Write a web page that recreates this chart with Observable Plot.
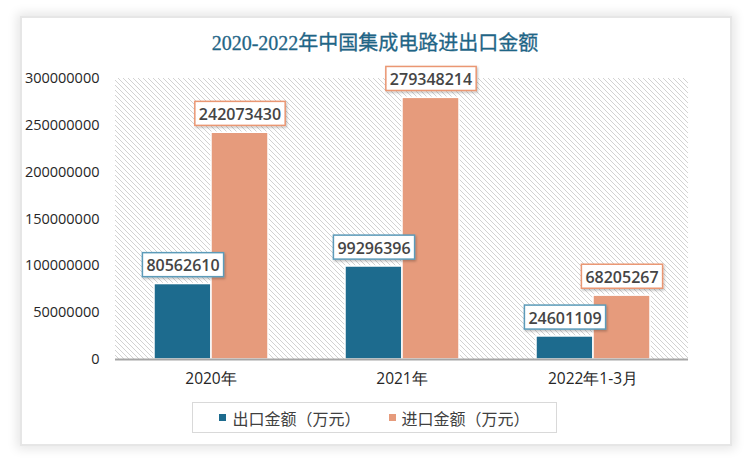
<!DOCTYPE html>
<html>
<head>
<meta charset="utf-8">
<script src="https://cdn.jsdelivr.net/npm/d3@7"></script>
<script src="https://cdn.jsdelivr.net/npm/@observablehq/plot@0.6"></script>
<style>
  html, body { margin: 0; padding: 0; background: #ffffff; }
  #wrap { position: relative; width: 750px; height: 461px; overflow: hidden; background: #fff; }
  #card { position: absolute; left: 20px; top: 16px; width: 708px; height: 426px;
          border: 2px solid #e6e6e6; background: #fff;
          box-shadow: 0 0 10px 3px rgba(0,0,0,0.10); }
  #title { position: absolute; left: 0; width: 750px; top: 30px; text-align: center;
           font-family: "Liberation Serif", "DejaVu Serif", "Noto Sans CJK SC", serif;
           font-size: 20px; color: #1f6586; line-height: 26px; -webkit-text-stroke: 0.3px #1f6586; }
  #chart { position: absolute; left: 0; top: 60px; }
  #legend { position: absolute; left: 192px; top: 402px; width: 363px; height: 29px;
            border: 1.5px solid #d9d9d9; background: #fff; display: flex; align-items: center;
            justify-content: center; font-family: "Open Sans", "Noto Sans CJK SC", sans-serif;
            font-size: 16px; color: #404040; }
  .item { display: flex; align-items: center; margin: 0 14px; }
  .sw { width: 7px; height: 7px; margin-right: 6px; }
</style>
</head>
<body>
<div id="wrap">
  <div id="card"></div>
  <div id="title">2020-2022年中国集成电路进出口金额</div>
  <div id="chart"></div>
  <div id="legend"></div>
</div>
<svg width="0" height="0" style="position:absolute">
  <defs>
    <pattern id="hatch" patternUnits="userSpaceOnUse" width="5" height="5">
      <rect width="5" height="5" fill="#ffffff"></rect>
      <path d="M0,0 L5,5 M-1,4 L1,6 M4,-1 L6,1" stroke="#d2d2d2" stroke-width="1"></path>
    </pattern>
    <filter id="sh" x="-20%" y="-20%" width="140%" height="150%">
      <feDropShadow dx="1" dy="1.5" stdDeviation="1.2" flood-color="#000" flood-opacity="0.25"></feDropShadow>
    </filter>
  </defs>
</svg>
<script>
const categories = ["2020年", "2021年", "2022年1-3月"];
const seriesNames = ["出口金额（万元）", "进口金额（万元）"];
const exportValues = [80562610, 99296396, 24601109];
const importValues = [242073430, 279348214, 68205267];
const yTicks = [0, 50000000, 100000000, 150000000, 200000000, 250000000, 300000000];
const colors = ["#1d6b8e", "#e69b7c"];
const labelBorders = ["#5b9bb9", "#ea9773"];

const data = [];
categories.forEach((c, i) => {
  data.push({category: c, series: seriesNames[0], value: exportValues[i]});
  data.push({category: c, series: seriesNames[1], value: importValues[i]});
});

const plot = Plot.plot({
  width: 750,
  height: 340,
  marginLeft: 115,
  marginRight: 62,
  marginTop: 18,
  marginBottom: 41,
  style: {fontFamily: "Open Sans, sans-serif", fontSize: "14.5px", color: "#262626", background: "transparent", overflow: "visible"},
  fx: {domain: categories, padding: 0, label: null, tickSize: 0, tickPadding: 13, axis: "bottom"},
  x: {domain: seriesNames, paddingInner: 0, paddingOuter: 0.675, axis: null},
  y: {domain: [0, 300000000], ticks: yTicks, tickFormat: d3.format("d"), tickSize: 0, tickPadding: 16, label: null},
  color: {domain: seriesNames, range: colors},
  marks: [
    Plot.barY(data, {fx: "category", x: "series", y: "value", fill: "series", stroke: "#ffffff", strokeWidth: 1.5}),
    Plot.ruleY([0], {stroke: "#a6a6a6", strokeWidth: 2}),
    Plot.text(data.filter(d => d.series === seriesNames[0]), {fx: "category", x: "series", y: "value", text: d => String(d.value), dy: -18, lineAnchor: "middle", fill: "#454545", fontWeight: 600, fontSize: 16, className: "lbl0"}),
    Plot.text(data.filter(d => d.series === seriesNames[1]), {fx: "category", x: "series", y: "value", text: d => String(d.value), dy: -18, lineAnchor: "middle", fill: "#454545", fontWeight: 600, fontSize: 16, className: "lbl1"})
  ]
});

document.getElementById("chart").appendChild(plot);

const ns = "http://www.w3.org/2000/svg";
// hatched plot background derived from the scales
const fxR = plot.scale("fx").range;
const yR = plot.scale("y").range;
const bg = document.createElementNS(ns, "rect");
bg.setAttribute("x", Math.min(...fxR));
bg.setAttribute("y", Math.min(...yR));
bg.setAttribute("width", Math.abs(fxR[1] - fxR[0]));
bg.setAttribute("height", Math.abs(yR[1] - yR[0]));
bg.setAttribute("fill", "url(#hatch)");
const firstG = plot.querySelector("g");
plot.insertBefore(bg, firstG);

// slightly larger category labels
plot.querySelectorAll('g[aria-label^="fx-axis"] text').forEach(t => t.setAttribute("font-size", "15.5px"));
plot.querySelectorAll('g[aria-label^="fx-axis"]').forEach(g => g.setAttribute("font-size", "15.5px"));

// label boxes
[0, 1].forEach(k => {
  plot.querySelectorAll(".lbl" + k + " text").forEach(t => {
    const b = t.getBBox();
    const r = document.createElementNS(ns, "rect");
    r.setAttribute("x", b.x - 4);
    r.setAttribute("y", b.y - 1.5);
    r.setAttribute("width", b.width + 8);
    r.setAttribute("height", b.height + 2);
    r.setAttribute("fill", "#ffffff");
    r.setAttribute("stroke", labelBorders[k]);
    r.setAttribute("stroke-width", "1.5");
    r.setAttribute("filter", "url(#sh)");
    const tr = t.getAttribute("transform");
    if (tr) r.setAttribute("transform", tr);
    t.parentNode.insertBefore(r, t);
  });
});

// legend
const legend = document.getElementById("legend");
seriesNames.forEach((s, i) => {
  const it = document.createElement("div");
  it.className = "item";
  const sw = document.createElement("div");
  sw.className = "sw";
  sw.style.background = colors[i];
  const tx = document.createElement("span");
  tx.textContent = s;
  it.appendChild(sw);
  it.appendChild(tx);
  legend.appendChild(it);
});
</script>
</body>
</html>
